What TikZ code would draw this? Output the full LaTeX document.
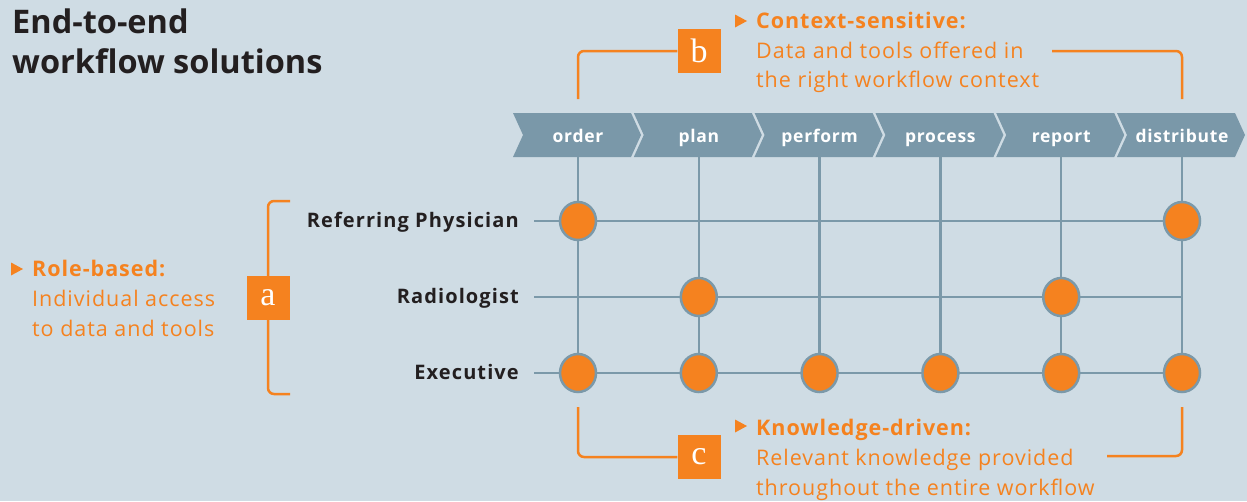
\documentclass[tikz,border=0pt]{standalone}
\usepackage{fontspec}
\usetikzlibrary{shapes.geometric}
\setmainfont{Open Sans}
\newfontfamily\wideA{Open Sans}[LetterSpace=5.5]
\newfontfamily\wideB{Open Sans}[LetterSpace=4.5]
\newfontfamily\wideC{Open Sans}[LetterSpace=4.0]
\newfontfamily\boxfont{Liberation Serif}
\definecolor{bg}{HTML}{CFDCE4}
\definecolor{org}{HTML}{F5821F}
\definecolor{gb}{HTML}{7B99A9}
\definecolor{chev}{HTML}{7A98A9}
\definecolor{dk}{HTML}{231F20}
\begin{document}
\begin{tikzpicture}[x=1pt,y=-1pt,
  gridline/.style={draw=gb,line width=2.5pt},
  bracket/.style={draw=org,line width=2.5pt,rounded corners=6pt},
  dot/.style={ellipse,fill=org,draw=gb,line width=2.5pt,minimum width=36pt,minimum height=38pt,inner sep=0pt},
  letterbox/.style={fill=org,text=white,minimum width=43pt,minimum height=44pt,inner sep=0pt,font=\boxfont\fontsize{34}{34}\selectfont},
  chevtext/.style={anchor=base,text=white,inner sep=0pt,font=\wideC\fontsize{17.5}{20}\selectfont\bfseries},
  rolelabel/.style={anchor=base east,text=dk,inner sep=0pt,font=\wideA\fontsize{20}{24}\selectfont\bfseries},
  ohead/.style={anchor=base west,text=org,inner sep=0pt,font=\wideB\fontsize{21.5}{24}\selectfont\bfseries},
  obody/.style={anchor=base west,text=org,inner sep=0pt,font=\wideB\fontsize{21.5}{24}\selectfont},
  titletext/.style={anchor=base west,text=dk,inner sep=0pt,font=\fontsize{32.5}{40}\selectfont\bfseries}]
\fill[bg] (0,0) rectangle (1247,501);
\useasboundingbox (0,0) rectangle (1247,501);

% title
\node[titletext] (t1) at (12,33) {End-to-end};
\node[titletext] (t2) at (12,73) {workflow solutions};

% chevrons and vertical lines
\foreach \i/\lab [evaluate=\i as \cx using 578+120.8*\i] in {0/order,1/plan,2/perform,3/process,4/report,5/distribute}{
  \fill[chev] (\cx-65,113) -- (\cx+53,113) -- (\cx+63,135) -- (\cx+53,157) -- (\cx-65,157) -- (\cx-55,135) -- cycle;
  \node[chevtext] (c\i) at (\cx,142) {\lab};
  \coordinate (top\i) at (\cx,157);
  \coordinate (bot\i) at (\cx,373);
  \draw[gridline] (top\i) -- (bot\i);
}

% rows
\coordinate (r1s) at (534,221); \coordinate (r1e) at (1182,221);
\coordinate (r2s) at (534,297); \coordinate (r2e) at (1182,297);
\coordinate (r3s) at (534,373); \coordinate (r3e) at (1182,373);
\draw[gridline] (r1s) -- (r1e);
\draw[gridline] (r2s) -- (r2e);
\draw[gridline] (r3s) -- (r3e);

\node[rolelabel] (lref) at (519,227.5) {Referring Physician};
\node[rolelabel] (lrad) at (519,303.5) {Radiologist};
\node[rolelabel] (lexe) at (519,379.5) {Executive};

% dots
\foreach \i in {0,5}{\node[dot] (d1-\i) at (578+120.8*\i,221) {};}
\foreach \i in {1,4}{\node[dot] (d2-\i) at (578+120.8*\i,297) {};}
\foreach \i in {0,...,5}{\node[dot] (d3-\i) at (578+120.8*\i,373) {};}

% bracket a
\coordinate (aT) at (290,201);
\coordinate (aB) at (290,394);
\draw[bracket] (aT) -| (268,298) |- (aB);
\node[letterbox] (boxa) at (268,298) {a};
\fill[org] (11,262.5) -- (23,269) -- (11,275.5) -- cycle;
\node[ohead] (ra1) at (32,276) {Role-based:};
\node[obody] (ra2) at (32,306) {Individual access};
\node[obody] (ra3) at (32,336.5) {to data and tools};

% bracket b
\coordinate (bL) at (578,99);
\coordinate (bR) at (1182,99);
\coordinate (bRe) at (1052,51);
\node[letterbox] (boxb) at (699,51) {b};
\draw[bracket] (bL) |- (boxb.west);
\draw[bracket] (bR) |- (bRe);
\fill[org] (735,14.5) -- (747,21) -- (735,27.5) -- cycle;
\node[ohead] (cb1) at (756,28) {Context-sensitive:};
\node[obody] (cb2) at (756,58) {Data and tools offered in};
\node[obody] (cb3) at (756,87.5) {the right workflow context};

% bracket c
\coordinate (cL) at (578,407);
\coordinate (cR) at (1182,407);
\coordinate (cRe) at (1107,456);
\node[letterbox] (boxc) at (699,457) {c};
\draw[bracket] (cL) |- (boxc.west);
\draw[bracket] (cR) |- (cRe);
\fill[org] (735,419.5) -- (747,426) -- (735,432.5) -- cycle;
\node[ohead] (kc1) at (756,435) {Knowledge-driven:};
\node[obody] (kc2) at (756,465) {Relevant knowledge provided};
\node[obody] (kc3) at (756,495) {throughout the entire workflow};
\end{tikzpicture}
\end{document}
